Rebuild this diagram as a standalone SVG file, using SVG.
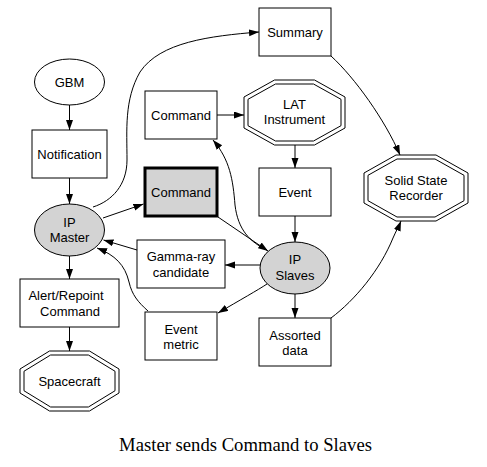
<svg xmlns="http://www.w3.org/2000/svg" width="487" height="467" viewBox="0 0 487 467">
<style>
.n{fill:#fff;stroke:#000;stroke-width:1}
.g{fill:#d3d3d3;stroke:#000;stroke-width:1}
.b{fill:#d3d3d3;stroke:#000;stroke-width:3}
.t{font-family:"Liberation Sans",Arial,sans-serif;font-size:13px;fill:#000;text-anchor:middle}
.e{fill:none;stroke:#000;stroke-width:1;marker-end:url(#ah)}
.cap{font-family:"Liberation Serif","Times New Roman",serif;font-size:18.67px;fill:#000;text-anchor:middle}
</style>
<defs>
<marker id="ah" markerUnits="userSpaceOnUse" markerWidth="10" markerHeight="8" refX="10" refY="3.5" orient="auto">
<path d="M0,0 L10,3.5 L0,7 Z" fill="#000"/>
</marker>
</defs>
<rect width="487" height="467" fill="#fff"/>
<g id="edges">
<path class="e" d="M69.5,105 L69.5,130"/>
<path class="e" d="M69.5,178 L69.5,204"/>
<path class="e" d="M93,207 C112,201 127,185 127,160 C127,130 124,100 140,72 C160,42 210,36 259,32"/>
<path class="e" d="M103,218 L143.5,204"/>
<path class="e" d="M217,115 L244,115"/>
<path class="e" d="M295,145 L295,168"/>
<path class="e" d="M295,216 L295,242"/>
<path class="e" d="M331,56 C355,78 385,120 400,155"/>
<path class="e" d="M331,318 C355,300 380,270 393,238 C396,231 399,226 401,221"/>
<path class="e" d="M218,217 L268,251"/>
<path class="e" d="M267,250 C250,242 238,230 235,205 C233,180 230,160 213,140"/>
<path class="e" d="M260,265 L225,265"/>
<path class="e" d="M267,284 C258,290 240,300 218,313"/>
<path class="e" d="M137,250 L103.5,240"/>
<path class="e" d="M148,311 C138,302 132,295 129,282 C125,265 115,255 97,248"/>
<path class="e" d="M69.5,256 L69.5,279"/>
<path class="e" d="M69.5,327 L69.5,351"/>
<path class="e" d="M295,294 L295,318"/>
</g>
<g id="gbm">
<ellipse class="n" cx="69.5" cy="82" rx="35" ry="23"/>
<text class="t" x="69.5" y="86.5">GBM</text>
</g>
<g id="notification">
<rect class="n" x="32" y="130" width="75" height="48"/>
<text class="t" x="69.5" y="158.5">Notification</text>
</g>
<g id="ipmaster">
<ellipse class="g" cx="69.5" cy="230" rx="35" ry="26"/>
<text class="t" x="69.5" y="226.5">IP</text>
<text class="t" x="69.5" y="242">Master</text>
</g>
<g id="alert">
<rect class="n" x="20" y="279" width="99" height="48"/>
<text class="t" x="66" y="300">Alert/Repoint</text>
<text class="t" x="70" y="315.5">Command</text>
</g>
<g id="spacecraft">
<polygon class="n" points="49.5,351 89.5,351 119,369 119,393 89.5,411 49.5,411 20,393 20,369"/>
<polygon class="n" points="50.6,355 88.4,355 115,371.25 115,390.75 88.4,407 50.6,407 24,390.75 24,371.25"/>
<text class="t" x="69.5" y="386">Spacecraft</text>
</g>
<g id="summary">
<rect class="n" x="259" y="8" width="72" height="48"/>
<text class="t" x="295" y="36.5">Summary</text>
</g>
<g id="command1">
<rect class="n" x="145" y="91" width="72" height="48"/>
<text class="t" x="181" y="119.5">Command</text>
</g>
<g id="lat">
<polygon class="n" points="274.5,80 314.5,80 345,97 345,128 314.5,145 274.5,145 244,128 244,97"/>
<polygon class="n" points="275.5,84 313.5,84 341,99.3 341,125.7 313.5,141 275.5,141 248,125.7 248,99.3"/>
<text class="t" x="294.5" y="109">LAT</text>
<text class="t" x="294.5" y="124">Instrument</text>
</g>
<g id="command2">
<rect class="b" x="145" y="168" width="72" height="48"/>
<text class="t" x="181" y="196.5">Command</text>
</g>
<g id="event">
<rect class="n" x="259" y="168" width="72" height="48"/>
<text class="t" x="295" y="196.5">Event</text>
</g>
<g id="ssr">
<polygon class="n" points="396,155 436,155 468,173 468,203 436,221 396,221 364,203 364,173"/>
<polygon class="n" points="397,159 435,159 464,175.3 464,200.7 435,217 397,217 368,200.7 368,175.3"/>
<text class="t" x="416" y="185">Solid State</text>
<text class="t" x="416" y="200">Recorder</text>
</g>
<g id="gamma">
<rect class="n" x="137" y="240" width="88" height="48"/>
<text class="t" x="181" y="261">Gamma-ray</text>
<text class="t" x="181" y="276.5">candidate</text>
</g>
<g id="ipslaves">
<ellipse class="g" cx="295" cy="268" rx="35" ry="26"/>
<text class="t" x="295" y="264">IP</text>
<text class="t" x="295" y="280">Slaves</text>
</g>
<g id="eventmetric">
<rect class="n" x="145" y="312" width="72" height="48"/>
<text class="t" x="181" y="333.5">Event</text>
<text class="t" x="181" y="349">metric</text>
</g>
<g id="assorted">
<rect class="n" x="259" y="318" width="72" height="48"/>
<text class="t" x="295" y="339.5">Assorted</text>
<text class="t" x="295" y="354.5">data</text>
</g>
<text class="cap" x="245.5" y="450.5">Master sends Command to Slaves</text>
</svg>
